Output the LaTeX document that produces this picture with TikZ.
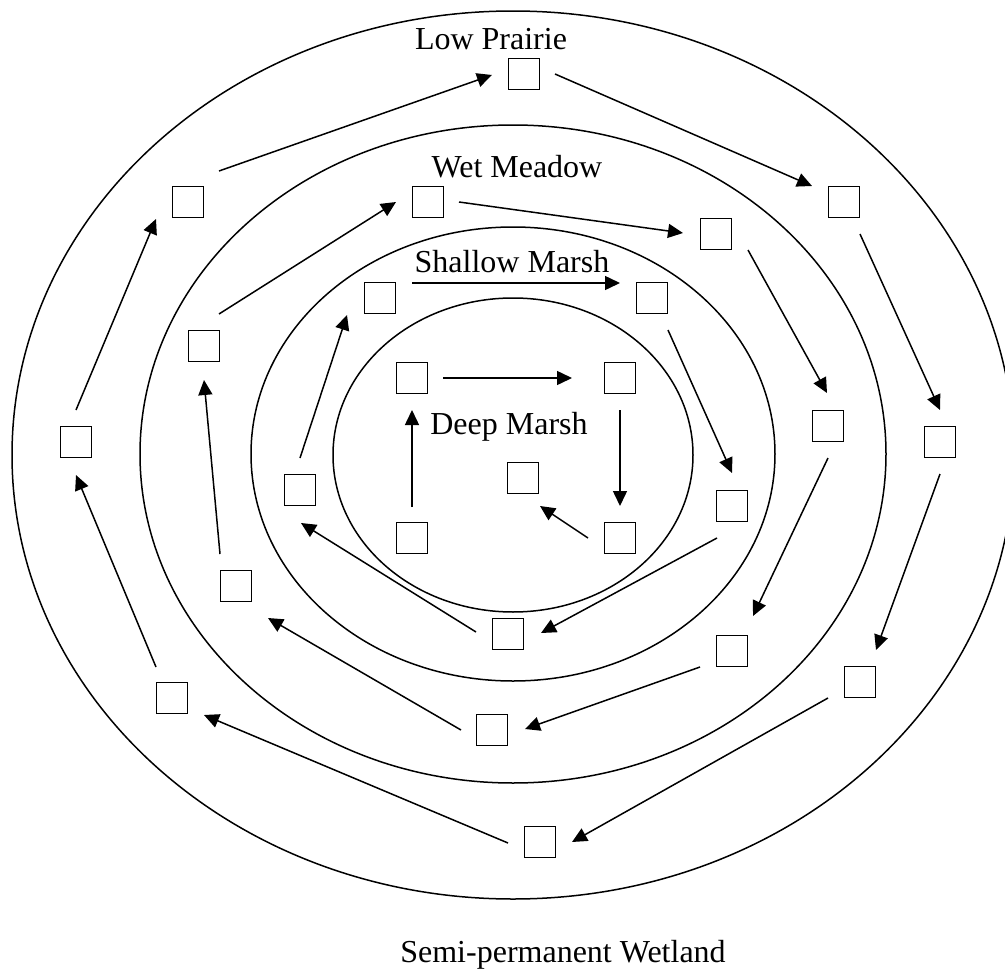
\documentclass[tikz,border=0pt]{standalone}
\usepackage{fontspec}
\setmainfont{Liberation Serif}
\usetikzlibrary{arrows.meta}
\begin{document}
\begin{tikzpicture}[x=1pt,y=-1pt,line width=1.5pt,
  box/.style={draw,minimum width=31pt,minimum height=31pt,inner sep=0pt},
  arr/.style={-{Triangle[length=15pt,width=14pt]}},
  lbl/.style={font=\fontsize{32}{38}\selectfont,anchor=base,inner sep=0pt}]
\useasboundingbox (0,0) rectangle (1005,969);
\clip (0,0) rectangle (1005,969);
% zone boundaries
\draw (513,455) ellipse [x radius=501pt, y radius=444pt];
\draw (513,454) ellipse [x radius=373pt, y radius=329pt];
\draw (513,454) ellipse [x radius=262pt, y radius=227pt];
\draw (513,455) ellipse [x radius=180pt, y radius=157pt];
% labels
\node[lbl] (tlp) at (491,49) {Low Prairie};
\node[lbl] (twm) at (517,177) {Wet Meadow};
\node[lbl] (tsm) at (512,272) {Shallow Marsh};
\node[lbl] (tdm) at (509,434) {Deep Marsh};
\node[lbl] (tsw) at (563,962) {Semi-permanent Wetland};
% outer ring (Low Prairie)
\node[box] (o1) at (524,74) {};
\node[box] (o2) at (844,202) {};
\node[box] (o3) at (940,442) {};
\node[box] (o4) at (860,682) {};
\node[box] (o5) at (540,842) {};
\node[box] (o6) at (172,698) {};
\node[box] (o7) at (76,442) {};
\node[box] (o8) at (188,202) {};
% wet meadow ring
\node[box] (w1) at (428,202) {};
\node[box] (w2) at (716,234) {};
\node[box] (w3) at (828,426) {};
\node[box] (w4) at (732,651) {};
\node[box] (w5) at (492,730) {};
\node[box] (w6) at (236,586) {};
\node[box] (w7) at (204,346) {};
% shallow marsh ring
\node[box] (s1) at (380,298) {};
\node[box] (s2) at (652,298) {};
\node[box] (s3) at (732,506) {};
\node[box] (s4) at (508,634) {};
\node[box] (s5) at (300,490) {};
% deep marsh
\node[box] (d1) at (412,378) {};
\node[box] (d2) at (620,378) {};
\node[box] (d3) at (620,538) {};
\node[box] (d4) at (412,538) {};
\node[box] (d5) at (523,478) {};
% outer arrows
\draw[arr] ([shift={(31,-31)}]o8.center) -- ([shift={(-32,1)}]o1.center);
\draw[arr] ([shift={(31,0)}]o1.center) -- ([shift={(-32,-16)}]o2.center);
\draw[arr] ([shift={(16,32)}]o2.center) -- ([shift={(0,-32)}]o3.center);
\draw[arr] ([shift={(0,32)}]o3.center) -- ([shift={(16,-32)}]o4.center);
\draw[arr] ([shift={(-32,16)}]o4.center) -- ([shift={(32,0)}]o5.center);
\draw[arr] ([shift={(-32,1)}]o5.center) -- ([shift={(32,17)}]o6.center);
\draw[arr] ([shift={(-16,-31)}]o6.center) -- ([shift={(0,33)}]o7.center);
\draw[arr] ([shift={(0,-32)}]o7.center) -- ([shift={(-32,17)}]o8.center);
% wet meadow arrows
\draw[arr] ([shift={(31,0)}]w1.center) -- ([shift={(-33,-1)}]w2.center);
\draw[arr] ([shift={(32,16)}]w2.center) -- ([shift={(-1,-33)}]w3.center);
\draw[arr] ([shift={(0,32)}]w3.center) -- ([shift={(21,-35)}]w4.center);
\draw[arr] ([shift={(-32,16)}]w4.center) -- ([shift={(33,-1)}]w5.center);
\draw[arr] ([shift={(-31,0)}]w5.center) -- ([shift={(32,32)}]w6.center);
\draw[arr] ([shift={(-16,-32)}]w6.center) -- ([shift={(0,34)}]w7.center);
\draw[arr] ([shift={(15,-32)}]w7.center) -- ([shift={(-32,0)}]w1.center);
% shallow marsh arrows
\draw[arr] ([shift={(32,-15)}]s1.center) -- ([shift={(-32,-15)}]s2.center);
\draw[arr] ([shift={(16,32)}]s2.center) -- ([shift={(0,-33)}]s3.center);
\draw[arr] ([shift={(-15,32)}]s3.center) -- ([shift={(33,-1)}]s4.center);
\draw[arr] ([shift={(-32,-2)}]s4.center) -- ([shift={(1,33)}]s5.center);
\draw[arr] ([shift={(0,-32)}]s5.center) -- ([shift={(-33,17)}]s1.center);
% deep marsh arrows
\draw[arr] ([shift={(31,0)}]d1.center) -- ([shift={(-48,0)}]d2.center);
\draw[arr] ([shift={(0,32)}]d2.center) -- ([shift={(0,-32)}]d3.center);
\draw[arr] ([shift={(-32,0)}]d3.center) -- ([shift={(17,28)}]d5.center);
\draw[arr] ([shift={(0,-31)}]d4.center) -- ([shift={(0,32)}]d1.center);
\end{tikzpicture}
\end{document}
